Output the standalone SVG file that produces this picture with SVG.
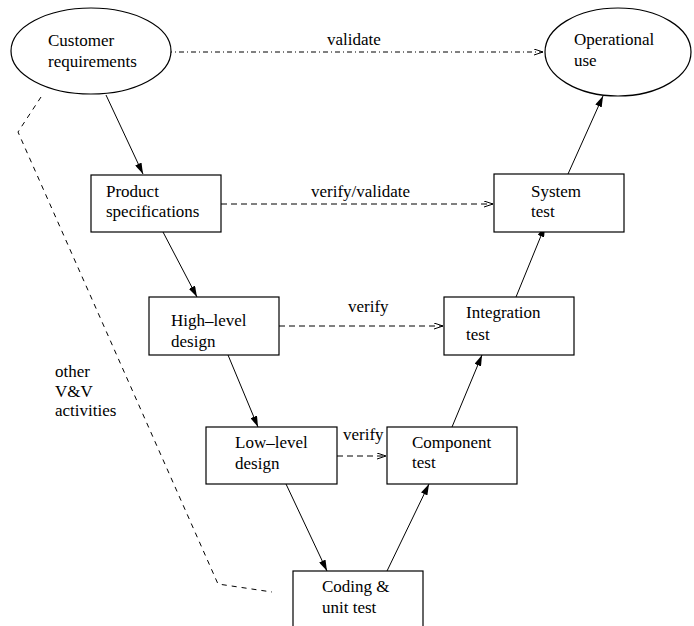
<svg xmlns="http://www.w3.org/2000/svg" width="694" height="626" viewBox="0 0 694 626">
  <style>
    text { font-size: 17px; fill: #000; }
    .shape { fill: #fff; stroke: #000; stroke-width: 1.2; }
    .edge { fill: none; stroke: #000; stroke-width: 1; }
    .dash { stroke-dasharray: 6,4; }
    .dashdot { stroke-dasharray: 5,3,1,3; }
    .loose { stroke-dasharray: 5,5; }
  </style>
  <defs>
    <marker id="solid" viewBox="0 0 11 7" refX="11" refY="3.5" markerWidth="11" markerHeight="7" markerUnits="userSpaceOnUse" orient="auto">
      <path d="M0,0 L11,3.5 L0,7 z" fill="#000"/>
    </marker>
    <marker id="open" viewBox="0 0 10 7" refX="9.5" refY="3.5" markerWidth="10" markerHeight="7" markerUnits="userSpaceOnUse" orient="auto">
      <path d="M0.5,0.5 L9.5,3.5 L0.5,6.5" fill="none" stroke="#000" stroke-width="1"/>
    </marker>
  </defs>

  <g font-family="'Liberation Serif', 'DejaVu Serif', serif">
  <!-- connectors -->
  <g id="connectors">
    <line class="edge dashdot" x1="167" y1="52" x2="543" y2="52" marker-end="url(#open)"/>
    <line class="edge dash" x1="221" y1="204" x2="493" y2="204" marker-end="url(#open)"/>
    <line class="edge dash" x1="279" y1="326" x2="443" y2="326" marker-end="url(#open)"/>
    <line class="edge dash" x1="337" y1="456" x2="386" y2="456" marker-end="url(#open)"/>

    <line class="edge" x1="106" y1="95" x2="143" y2="174" marker-end="url(#solid)"/>
    <line class="edge" x1="163" y1="232" x2="197" y2="297" marker-end="url(#solid)"/>
    <line class="edge" x1="228" y1="355" x2="258" y2="427" marker-end="url(#solid)"/>
    <line class="edge" x1="286" y1="484" x2="327" y2="571" marker-end="url(#solid)"/>
    <line class="edge" x1="387" y1="571" x2="429" y2="484" marker-end="url(#solid)"/>
    <line class="edge" x1="452" y1="427" x2="482" y2="355" marker-end="url(#solid)"/>
    <line class="edge" x1="516" y1="297" x2="545" y2="226" marker-end="url(#solid)"/>
    <line class="edge" x1="568" y1="174" x2="603" y2="96" marker-end="url(#solid)"/>

    <polyline class="edge loose" points="41,97 18,132 218,584 272,592"/>

    <text x="327" y="45">validate</text>
    <text x="311" y="197">verify/validate</text>
    <text x="348" y="312">verify</text>
    <text x="343" y="440">verify</text>
    <text x="55" y="377">other</text>
    <text x="55" y="397">V&amp;V</text>
    <text x="55" y="416">activities</text>
  </g>

  <!-- nodes -->
  <g id="customer-requirements">
    <ellipse class="shape" cx="91" cy="51" rx="80" ry="43"/>
    <text x="48" y="46">Customer</text>
    <text x="48" y="67">requirements</text>
  </g>
  <g id="operational-use">
    <ellipse class="shape" cx="618" cy="52" rx="73" ry="44"/>
    <text x="574" y="45">Operational</text>
    <text x="574" y="66">use</text>
  </g>
  <g id="product-specifications">
    <rect class="shape" x="91" y="175" width="130" height="57"/>
    <text x="106" y="197">Product</text>
    <text x="106" y="217">specifications</text>
  </g>
  <g id="high-level-design">
    <rect class="shape" x="149" y="297" width="130" height="58"/>
    <text x="171" y="326">High–level</text>
    <text x="171" y="347">design</text>
  </g>
  <g id="low-level-design">
    <rect class="shape" x="206" y="427" width="131" height="57"/>
    <text x="235" y="448">Low–level</text>
    <text x="235" y="469">design</text>
  </g>
  <g id="coding-unit-test">
    <rect class="shape" x="293" y="571" width="130" height="70"/>
    <text x="322" y="592">Coding &amp;</text>
    <text x="322" y="613">unit test</text>
  </g>
  <g id="component-test">
    <rect class="shape" x="387" y="427" width="130" height="57"/>
    <text x="412" y="448">Component</text>
    <text x="412" y="468">test</text>
  </g>
  <g id="integration-test">
    <rect class="shape" x="444" y="297" width="130" height="58"/>
    <text x="466" y="318">Integration</text>
    <text x="466" y="340">test</text>
  </g>
  <g id="system-test">
    <rect class="shape" x="494" y="174" width="130" height="58"/>
    <text x="531" y="197">System</text>
    <text x="531" y="217">test</text>
  </g>
  </g>
</svg>
